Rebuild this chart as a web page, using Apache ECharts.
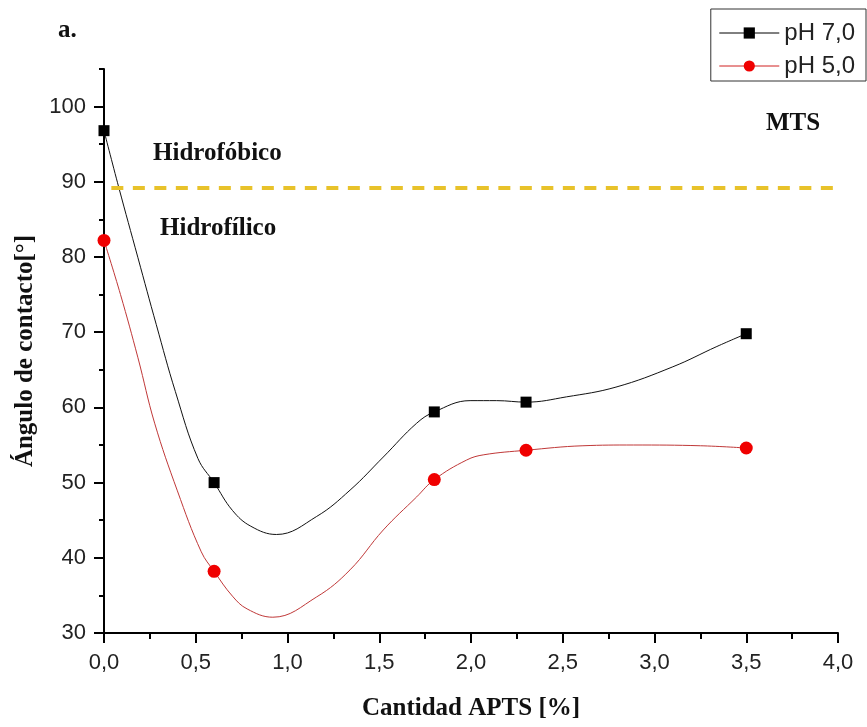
<!DOCTYPE html>
<html><head><meta charset="utf-8">
<script src="https://cdn.jsdelivr.net/npm/echarts@6/dist/echarts.min.js"></script>
<style>html,body{margin:0;padding:0;background:#fff}#chart{width:867px;height:727px}</style>
</head><body><div id="chart"></div>
<script>
// ---- data ----
const seriesNames = ['pH 7,0', 'pH 5,0'];
const ph7X = [0, 0.6, 1.8, 2.3, 3.5];
const ph7Y = [96.8, 50.0, 59.4, 60.7, 69.8];
const ph5X = [0, 0.6, 1.8, 2.3, 3.5];
const ph5Y = [82.2, 38.2, 50.4, 54.3, 54.6];
// spline curves
const ph7CurveX = [0, 0.08, 0.185, 0.285, 0.389, 0.512, 0.6, 0.7, 0.8, 0.94, 1.159, 1.341, 1.522, 1.704, 1.8, 1.995, 2.14, 2.3, 2.52, 2.79, 3.10, 3.34, 3.5];
const ph7CurveY = [96.8, 89.3, 79.9, 71.0, 62.1, 53.2, 50.0, 46.3, 44.2, 43.1, 45.5, 49.0, 53.4, 57.9, 59.4, 60.9, 60.9, 60.7, 61.4, 62.7, 65.4, 68.1, 69.8];
const ph5CurveX = [0, 0.09, 0.185, 0.276, 0.40, 0.53, 0.6, 0.7, 0.78, 0.92, 1.159, 1.341, 1.522, 1.704, 1.8, 1.976, 2.07, 2.3, 2.61, 2.885, 3.25, 3.5];
const ph5CurveY = [82.2, 75.0, 66.6, 57.9, 48.9, 40.8, 38.2, 34.9, 33.2, 32.1, 34.8, 38.4, 43.7, 48.1, 50.4, 53.0, 53.7, 54.3, 54.9, 55.0, 54.9, 54.6];
const thresholdX = [0.04, 4.0];
const thresholdY = 89.2;
const yTicks = [30, 40, 50, 60, 70, 80, 90, 100];
const yMinorTicks = [35, 45, 55, 65, 75, 85, 95, 105];
const annotations = ['a.', 'Hidrofóbico', 'Hidrofílico', 'MTS'];
const xTitle = 'Cantidad APTS [%]';
const yTitle = 'Ángulo de contacto[°]';

const zip = (xs, ys) => xs.map((x, i) => [x, ys[i]]);
const SANS = '"Liberation Sans", Arial, sans-serif';
const SERIF = '"Liberation Serif", "Times New Roman", serif';

const chart = echarts.init(document.getElementById('chart'), null, {renderer: 'canvas'});
chart.setOption({
  animation: false,
  backgroundColor: '#fff',
  grid: {left: 104, right: 29, top: 69, bottom: 94, containLabel: false},
  legend: {
    right: 1, top: 9, orient: 'vertical',
    backgroundColor: '#fff', borderColor: '#333', borderWidth: 1, borderRadius: 0,
    padding: [12, 11, 3, 8],
    itemWidth: 60, itemHeight: 14, itemGap: 9,
    textStyle: {fontFamily: SANS, fontSize: 24, color: '#222', lineHeight: 22},
    data: [
      {name: seriesNames[0], lineStyle: {width: 1, color: '#000', opacity: 1}},
      {name: seriesNames[1], lineStyle: {width: 1, color: '#d02020', opacity: 1}}
    ]
  },
  xAxis: {
    type: 'value', min: 0, max: 4, interval: 0.5,
    name: xTitle, nameLocation: 'middle', nameGap: 63,
    nameTextStyle: {fontFamily: SERIF, fontWeight: 'bold', fontSize: 25, color: '#111'},
    axisLine: {show: true, onZero: false, lineStyle: {color: '#000', width: 2}},
    axisTick: {show: true, inside: false, length: 10, lineStyle: {color: '#000', width: 2}},
    minorTick: {show: true, splitNumber: 2, length: 6, lineStyle: {color: '#000', width: 2}},
    axisLabel: {fontFamily: SANS, fontSize: 22, color: '#222', margin: 19,
      formatter: v => v.toFixed(1).replace('.', ',')},
    splitLine: {show: false}, minorSplitLine: {show: false}
  },
  yAxis: [{
    type: 'value', min: 30, max: 105, interval: 10, position: 'left',
    name: yTitle, nameLocation: 'middle', nameGap: 61, nameRotate: 90,
    nameTextStyle: {fontFamily: SERIF, fontWeight: 'bold', fontSize: 25, color: '#111'},
    axisLine: {show: true, onZero: false, lineStyle: {color: '#000', width: 2}},
    axisTick: {show: true, length: 10, customValues: yTicks, lineStyle: {color: '#000', width: 2}},
    axisLabel: {fontFamily: SANS, fontSize: 22, color: '#222', margin: 18, customValues: yTicks},
    splitLine: {show: false}
  }, {
    type: 'value', min: 30, max: 105, interval: 5, position: 'left',
    axisLine: {show: false},
    axisTick: {show: true, length: 5, customValues: yMinorTicks, lineStyle: {color: '#000', width: 2}},
    axisLabel: {show: false},
    splitLine: {show: false}
  }],
  graphic: [
    {type: 'text', left: 58, top: 18, style: {text: annotations[0], font: 'bold 25px ' + SERIF, fill: '#111'}},
    {type: 'text', left: 153, top: 141, style: {text: annotations[1], font: 'bold 25px ' + SERIF, fill: '#111'}},
    {type: 'text', left: 160, top: 216, style: {text: annotations[2], font: 'bold 25px ' + SERIF, fill: '#111'}},
    {type: 'text', left: 766, top: 111, style: {text: annotations[3], font: 'bold 25px ' + SERIF, fill: '#111'}}
  ],
  series: [
    {
      name: 'curve7', type: 'line', data: zip(ph7CurveX, ph7CurveY), smooth: 0.4,
      showSymbol: false, symbol: 'none', lineStyle: {color: '#111', width: 1}, z: 2, silent: true,
      markLine: {
        silent: true, symbol: 'none', label: {show: false},
        lineStyle: {color: '#e8c22a', width: 4, type: [12, 9.5]},
        data: [[{coord: [thresholdX[0], thresholdY]}, {coord: [thresholdX[1], thresholdY]}]]
      }
    },
    {
      name: 'curve5', type: 'line', data: zip(ph5CurveX, ph5CurveY), smooth: 0.4,
      showSymbol: false, symbol: 'none', lineStyle: {color: '#c03838', width: 1}, z: 2, silent: true
    },
    {
      name: seriesNames[0], type: 'line', data: zip(ph7X, ph7Y),
      symbol: 'rect', symbolSize: 11, itemStyle: {color: '#000'},
      lineStyle: {width: 0, opacity: 0}, z: 5
    },
    {
      name: seriesNames[1], type: 'line', data: zip(ph5X, ph5Y),
      symbol: 'circle', symbolSize: 13, itemStyle: {color: '#f00000'},
      lineStyle: {width: 0, opacity: 0}, z: 5
    }
  ]
});
</script>
</body></html>
